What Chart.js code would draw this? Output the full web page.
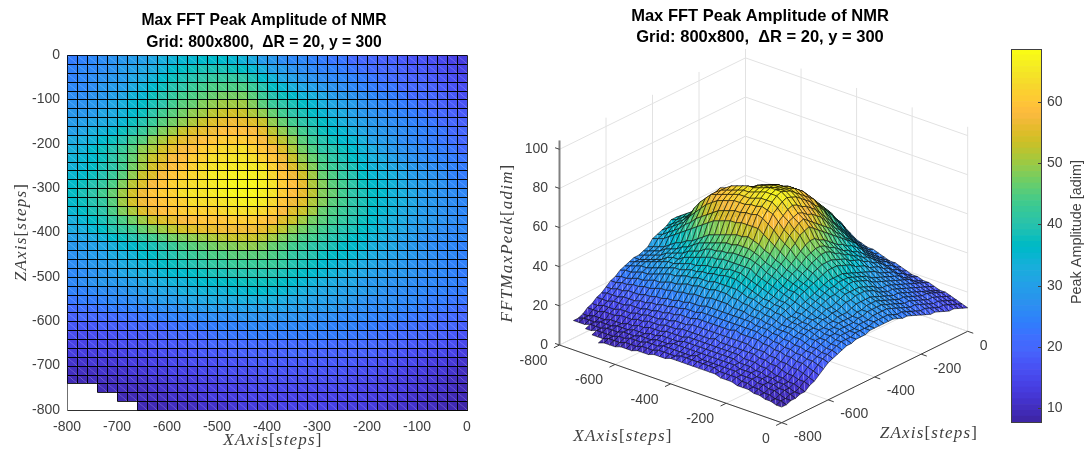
<!DOCTYPE html>
<html>
<head>
<meta charset="utf-8">
<script src="https://cdn.jsdelivr.net/npm/chart.js@4"></script>
<style>
	html, body { margin: 0; padding: 0; background: #fff; }
	body { position: relative; width: 1086px; height: 460px; overflow: hidden; }
	.panel { position: absolute; top: 0; height: 460px; }
	.panel canvas { display: block; }
</style>
</head>
<body>
<div class="panel" style="left:0;width:534px"><canvas id="mapChart"></canvas></div>
<div class="panel" style="left:490px;width:540px"><canvas id="surfaceChart"></canvas></div>
<div class="panel" style="left:990px;width:96px"><canvas id="barChart"></canvas></div>
<script>
// Axis values of the measuring grid
const xSteps = [-800,-780,-760,-740,-720,-700,-680,-660,-640,-620,-600,-580,-560,-540,-520,-500,-480,-460,-440,-420,-400,-380,-360,-340,-320,-300,-280,-260,-240,-220,-200,-180,-160,-140,-120,-100,-80,-60,-40,-20,0];
const zSteps = [0,-20,-40,-60,-80,-100,-120,-140,-160,-180,-200,-220,-240,-260,-280,-300,-320,-340,-360,-380,-400,-420,-440,-460,-480,-500,-520,-540,-560,-580,-600,-620,-640,-660,-680,-700,-720,-740,-760,-780,-800];

// Peak amplitude, one row per zSteps entry, one column per xSteps entry
const peakRows = [
	[23,24,25,26,26,27,28,29,30,31,33,33,34,34,35,34,34,33,31,29,27,26,25,25,24,23,22,22,21,20,19,19,18,18,17,16,16,15,14,13,12],
	[23,24,25,26,27,28,29,30,31,32,34,35,36,37,37,37,37,36,35,32,30,28,27,26,25,24,24,23,22,21,20,20,19,19,18,17,17,16,15,14,13],
	[24,25,26,26,27,28,30,31,32,34,36,37,38,39,40,40,40,39,38,36,33,31,29,28,27,26,25,25,24,23,22,21,20,20,19,18,18,17,16,15,14],
	[24,25,26,27,28,29,31,32,34,36,38,39,41,42,43,43,43,43,42,39,36,34,32,30,29,28,27,26,25,24,23,22,22,21,20,19,19,18,17,16,15],
	[25,26,26,27,29,30,32,34,35,38,40,41,43,44,45,46,46,46,45,43,39,37,35,33,32,30,29,28,27,26,25,24,23,22,21,20,20,19,18,17,15],
	[26,27,27,28,30,31,33,35,37,39,41,43,45,46,47,48,49,49,48,46,42,40,38,36,35,33,31,30,29,27,26,25,24,23,22,21,20,19,18,17,16],
	[27,28,28,29,31,32,34,36,38,41,43,45,47,48,50,51,52,52,51,49,46,43,41,38,37,35,33,32,30,29,27,26,25,24,23,22,21,20,19,18,17],
	[28,29,29,31,32,33,35,38,40,43,45,47,49,51,53,54,55,55,54,52,50,46,43,41,39,37,35,33,32,30,28,27,26,25,24,23,22,21,20,19,18],
	[29,30,31,32,33,35,37,40,42,45,48,50,52,54,55,56,58,58,57,56,53,49,46,43,41,38,36,35,33,31,30,28,27,26,25,24,23,22,21,20,18],
	[31,32,33,34,36,37,40,43,45,49,51,53,55,57,58,59,60,60,60,58,55,52,49,46,43,40,38,36,35,33,31,29,28,27,26,25,24,23,22,20,19],
	[32,33,34,36,37,40,43,46,49,52,54,56,58,59,60,61,62,62,62,60,58,55,52,48,45,41,39,38,36,34,32,30,29,27,26,25,24,23,22,21,20],
	[33,34,35,37,39,42,45,49,51,54,56,58,59,60,62,63,63,64,64,62,60,57,54,50,47,43,41,39,37,35,33,32,30,28,27,26,25,24,23,22,21],
	[33,34,36,37,39,41,44,48,51,54,57,59,60,62,63,64,65,65,65,64,62,59,56,52,49,45,43,41,39,37,34,33,32,30,28,27,26,25,24,23,22],
	[34,35,36,38,40,43,46,50,53,56,58,60,61,63,64,65,66,66,66,66,64,60,57,54,51,47,44,42,40,38,35,34,33,31,30,28,27,26,25,24,23],
	[35,36,38,39,41,45,48,52,55,57,60,61,62,63,65,66,66,67,67,67,65,62,59,56,53,48,46,44,41,39,36,35,34,32,31,29,28,27,26,24,23],
	[36,38,40,42,45,48,52,55,59,60,62,63,64,65,65,66,67,68,68,68,66,63,60,58,55,50,47,45,42,40,37,36,35,33,32,30,29,28,27,25,24],
	[36,37,39,41,44,48,52,55,58,60,61,62,63,64,64,65,66,67,67,67,65,62,59,57,54,50,47,45,42,40,37,36,35,33,32,30,29,28,27,26,25],
	[34,36,38,40,43,48,52,55,58,59,60,61,62,63,63,63,64,65,65,65,63,60,58,55,53,49,46,44,42,40,37,36,34,33,32,30,29,28,27,26,25],
	[33,35,37,39,41,45,48,51,54,56,58,59,60,61,61,61,62,62,63,62,61,58,55,53,50,47,45,43,41,39,37,35,34,33,31,30,28,28,27,26,25],
	[32,33,35,37,39,42,44,47,49,51,53,55,56,57,58,58,59,59,60,59,57,55,52,50,48,45,43,41,40,38,36,35,33,32,31,29,28,27,26,26,25],
	[31,32,33,35,37,39,41,43,45,47,49,51,52,53,54,54,55,55,55,55,53,51,49,47,45,43,41,40,38,37,35,34,33,31,30,28,27,27,26,25,25],
	[28,29,30,31,33,35,36,38,39,41,43,45,46,47,48,49,50,50,51,50,49,47,46,44,43,41,40,38,37,36,34,33,32,30,29,28,27,26,26,25,25],
	[27,28,29,30,32,33,34,36,37,39,41,42,43,44,45,46,46,47,47,47,46,45,43,42,41,39,38,37,36,35,33,32,31,30,29,28,27,26,25,25,24],
	[26,27,28,29,30,32,33,34,35,37,38,39,41,42,42,43,43,44,44,44,44,43,42,40,39,38,36,35,35,34,32,31,30,29,28,27,27,26,25,25,24],
	[26,26,27,28,29,30,32,33,33,35,36,37,38,39,40,40,41,41,41,41,41,41,39,38,37,36,35,34,33,32,31,30,29,28,28,27,26,26,25,24,24],
	[25,26,27,28,29,30,31,32,32,33,34,35,35,36,37,37,38,38,39,39,39,38,37,36,35,34,33,32,32,31,29,29,28,28,27,26,26,25,25,24,23],
	[24,25,26,27,27,28,29,30,31,32,32,33,34,34,35,35,36,36,37,37,37,36,35,34,33,32,32,31,31,30,28,28,27,27,26,26,25,25,24,24,23],
	[23,24,24,25,26,26,27,28,29,30,30,31,32,32,33,33,33,34,34,34,34,34,33,32,32,31,30,30,29,29,28,27,27,26,26,25,24,24,23,23,22],
	[21,22,22,23,24,24,25,26,26,27,28,28,29,30,30,31,31,31,32,32,32,31,31,30,30,29,29,28,28,27,26,26,26,25,25,24,24,23,22,22,21],
	[20,20,21,21,22,22,23,23,24,25,25,26,26,27,27,28,28,28,29,29,29,29,28,28,28,27,27,27,26,26,25,25,25,24,24,23,22,22,21,21,20],
	[18,18,19,19,20,20,20,21,21,22,22,23,23,24,24,25,25,25,26,26,26,26,26,26,26,26,26,25,25,25,24,24,23,23,22,22,21,21,20,20,19],
	[16,17,17,17,18,18,18,19,19,20,20,21,21,22,22,23,23,23,24,24,24,24,24,24,24,24,24,24,24,23,23,22,22,21,21,20,20,19,19,18,17],
	[15,15,15,16,16,16,17,17,17,18,18,19,19,20,20,21,21,21,22,22,22,22,22,22,22,23,22,22,22,22,21,21,20,20,19,19,18,18,17,16,15],
	[13,13,14,14,14,15,15,15,16,16,17,17,17,18,18,19,19,19,20,20,20,20,20,20,20,20,20,20,20,19,19,19,18,18,17,17,16,16,15,14,13],
	[12,12,12,13,13,13,14,14,14,15,15,16,16,16,17,17,17,18,18,18,18,18,18,19,18,18,18,18,18,18,18,17,17,16,16,15,14,14,13,13,12],
	[10,10,11,11,11,12,12,12,13,13,14,14,15,15,15,16,16,16,16,17,17,17,17,17,17,17,17,17,17,16,16,16,15,15,14,13,13,12,12,11,10],
	[9,10,10,10,11,11,11,12,12,12,13,13,13,14,14,15,15,15,15,16,16,16,16,16,16,16,16,16,16,15,15,15,14,14,13,13,12,12,11,10,10],
	[9,9,9,10,10,10,11,11,11,12,12,12,13,13,13,14,14,14,15,15,15,15,15,15,15,15,15,15,15,15,14,14,14,13,13,12,12,11,11,10,9],
	[null,null,null,9,9,10,10,10,10,11,11,12,12,12,13,13,13,14,14,14,14,14,14,15,14,14,14,14,14,14,14,13,13,13,12,12,11,11,10,9,9],
	[null,null,null,null,null,9,9,9,10,10,10,11,11,11,12,12,12,13,13,13,13,14,14,14,14,14,14,14,13,13,13,13,12,12,11,11,10,10,9,9,8],
	[null,null,null,null,null,null,null,8,9,9,9,10,10,10,11,11,11,12,12,12,13,13,13,13,13,13,13,13,13,12,12,12,11,11,11,10,10,9,9,8,8],
];

// Tick labels
const planTicks = [-800,-700,-600,-500,-400,-300,-200,-100,0];
const floorTicks = [-800,-600,-400,-200,0];
const heightTicks = [0,20,40,60,80,100];
const barTicks = [10,20,30,40,50,60];

const titleLines = ['Max FFT Peak Amplitude of NMR', 'Grid: 800x800,  \u0394R = 20, y = 300'];

const colorMin = 7.7;
const colorMax = 68.7;
const heightTop = 104.5;

// parula, 64 steps
const parula = ['#3e26a8','#402ab5','#422ebf','#4332cb','#4537d5','#463cde','#4741e5','#4747eb','#484df0','#4852f4','#4758f8','#4760fa','#4567fc','#4269fd','#3e6ffe','#3875fe','#327bfc','#2f81fa','#2d87f7','#2d8cf3','#2b91ef','#2796eb','#259bea','#239fe8','#20a5e3','#1ca9df','#18aedb','#11b1d6','#08b5d0','#01b8ca','#02bac3','#0bbdbc','#19bfb5','#24c1ae','#2cc3a7','#31c69f','#37c897','#3fca8e','#4acb84','#57cc7a','#64cd6f','#71cd63','#80cc59','#8fcb4e','#9dc942','#abc739','#b9c431','#c6c12a','#d1bf27','#dcbd29','#e6bb2d','#efba36','#f8ba3d','#fdbd3c','#fec338','#fdca33','#fccf30','#f7d62d','#f6dd2a','#f5e327','#f5e924','#f6ef20','#f7f51b','#f9fb15'];

const tickColor = '#404040';
const sansFont = '"Liberation Sans", Arial, sans-serif';
const mathFont = '"Liberation Serif", serif';

function colorFor(v) {
	let idx = Math.floor((v - colorMin) / (colorMax - colorMin) * parula.length);
	return parula[Math.max(0, Math.min(parula.length - 1, idx))];
}

function cellColor(a, b, c, d) {
	return colorFor((a + b + c + d) / 4);
}

// LaTeX-ish label: italic name, upright brackets
function drawMathLabel(ctx, name, unit, cx, cy, rotation) {
	let parts = [
		[name, 'italic 17px ' + mathFont],
		['[', '17px ' + mathFont],
		[unit, 'italic 17px ' + mathFont],
		[']', '17px ' + mathFont],
	];
	ctx.save();
	ctx.translate(cx, cy);
	ctx.rotate(rotation);
	ctx.fillStyle = tickColor;
	ctx.textBaseline = 'middle';
	ctx.textAlign = 'left';
	ctx.letterSpacing = '1.2px';
	let total = 0;
	parts.forEach(p => {
		ctx.font = p[1];
		total += ctx.measureText(p[0]).width;
	});
	let at = -total / 2;
	parts.forEach(p => {
		ctx.font = p[1];
		ctx.fillText(p[0], at, 0);
		at += ctx.measureText(p[0]).width;
	});
	ctx.restore();
}

function fillTriangle(ctx, p, q, r, color) {
	ctx.fillStyle = color;
	ctx.beginPath();
	ctx.moveTo(p.x, p.y);
	ctx.lineTo(q.x, q.y);
	ctx.lineTo(r.x, r.y);
	ctx.closePath();
	ctx.fill();
}

function gridPoints() {
	let points = [];
	peakRows.forEach((row, j) => {
		row.forEach((v, i) => {
			if (v !== null) {
				points.push({ x: xSteps[i], y: zSteps[j] });
			}
		});
	});
	return points;
}

const quietOptions = {
	animation: false,
	responsive: true,
	maintainAspectRatio: false,
	events: [],
};

// Left panel: flat view of the surface
const mapPlugin = {
	id: 'mapCells',
	// HACK: the title block stops at the plot's right edge, narrow it so the title sits over the axes
	afterLayout(chart) {
		chart.titleBlock.left = 61;
	},
	beforeDatasetsDraw(chart) {
		let ctx = chart.ctx;
		let xs = xSteps.map(v => Math.round(chart.scales.x.getPixelForValue(v)));
		let ys = zSteps.map(v => Math.round(chart.scales.y.getPixelForValue(v)));
		ctx.save();
		let edges = new Path2D();
		for (let j = 0; j < zSteps.length - 1; j++) {
			for (let i = 0; i < xSteps.length - 1; i++) {
				let a = peakRows[j][i], b = peakRows[j][i + 1], c = peakRows[j + 1][i], d = peakRows[j + 1][i + 1];
				if (a === null || b === null || c === null || d === null) {
					continue;
				}
				let color = cellColor(a, b, c, d);
				let tl = { x: xs[i], y: ys[j] }, tr = { x: xs[i + 1], y: ys[j] };
				let bl = { x: xs[i], y: ys[j + 1] }, br = { x: xs[i + 1], y: ys[j + 1] };
				fillTriangle(ctx, tl, tr, br, color);
				fillTriangle(ctx, tl, bl, br, color);
				edges.rect(xs[i] + 0.5, ys[j] + 0.5, xs[i + 1] - xs[i], ys[j + 1] - ys[j]);
			}
		}
		ctx.strokeStyle = 'rgba(0,0,0,0.85)';
		ctx.lineWidth = 1;
		ctx.stroke(edges);
		ctx.restore();
	},
	afterDraw(chart) {
		drawMathLabel(chart.ctx, 'XAxis', 'steps', 273, 441, 0);
		drawMathLabel(chart.ctx, 'ZAxis', 'steps', 22, 232, -Math.PI / 2);
	},
};

new Chart(document.getElementById('mapChart'), {
	type: 'scatter',
	data: {
		datasets: [{ data: gridPoints(), pointRadius: 0, showLine: false }],
	},
	options: {
		...quietOptions,
		layout: { padding: { left: 0, top: 0, right: 67, bottom: 0 } },
		plugins: {
			legend: { display: false },
			tooltip: { enabled: false },
			title: {
				display: true,
				text: titleLines,
				color: '#000',
				font: { family: sansFont, size: 15.7, weight: 'bold', lineHeight: '22px' },
				padding: { top: 10, bottom: 1 },
			},
		},
		scales: {
			x: {
				type: 'linear', min: -800, max: 0, z: 1,
				afterBuildTicks: s => { s.ticks = planTicks.map(v => ({ value: v })); },
				afterFit: s => { s.height = 50; },
				grid: { display: false, drawTicks: false },
				border: { color: '#303030' },
				ticks: { color: tickColor, font: { family: sansFont, size: 14 }, padding: 9, maxRotation: 0, autoSkip: false, callback: v => String(v) },
			},
			y: {
				type: 'linear', min: -800, max: 0, z: 1,
				afterBuildTicks: s => { s.ticks = planTicks.map(v => ({ value: v })); },
				afterFit: s => { s.width = 67; },
				grid: { display: false, drawTicks: false },
				border: { color: '#707070' },
				ticks: { color: tickColor, font: { family: sansFont, size: 14 }, padding: 7, autoSkip: false, callback: v => String(v) },
			},
		},
	},
	plugins: [mapPlugin],
});

// Right panel: fixed orthographic camera on the same surface
const view = { ox: 559.5, oy: 345, xu: 222.2 / 800, xv: 77.7 / 800, zu: 186 / 800, zv: -91.4 / 800, hv: 1.957 };

function project(x, z, h) {
	return {
		x: view.ox + (x + 800) * view.xu + (z + 800) * view.zu,
		y: view.oy + (x + 800) * view.xv + (z + 800) * view.zv - h * view.hv,
	};
}

function surfacePoints() {
	let points = [];
	peakRows.forEach((row, j) => {
		row.forEach((v, i) => {
			if (v !== null) {
				points.push(project(xSteps[i], zSteps[j], v));
			}
		});
	});
	return points;
}

const surfacePlugin = {
	id: 'surfaceQuads',
	beforeDatasetsDraw(chart) {
		let ctx = chart.ctx;
		let sx = chart.scales.x, sy = chart.scales.y;
		let px = p => ({ x: sx.getPixelForValue(p.x), y: sy.getPixelForValue(p.y) });
		let at = (x, z, h) => px(project(x, z, h));
		let segment = (p, q, color, width) => {
			ctx.strokeStyle = color;
			ctx.lineWidth = width;
			ctx.beginPath();
			ctx.moveTo(p.x, p.y);
			ctx.lineTo(q.x, q.y);
			ctx.stroke();
		};
		let wall = '#e2e2e2';
		ctx.save();

		// walls and floor
		heightTicks.forEach(h => {
			segment(at(-800, -800, h), at(-800, 0, h), wall, 1);
			segment(at(-800, 0, h), at(0, 0, h), wall, 1);
		});
		floorTicks.forEach(v => {
			segment(at(-800, v, 0), at(-800, v, heightTop), wall, 1);
			segment(at(v, 0, 0), at(v, 0, heightTop), wall, 1);
			segment(at(v, -800, 0), at(v, 0, 0), wall, 1);
			segment(at(-800, v, 0), at(0, v, 0), wall, 1);
		});

		// axes, ticks
		segment(at(-800, -800, 0), at(-800, -800, heightTop), '#808080', 2);
		segment(at(-800, -800, 0), at(0, -800, 0), '#404040', 1);
		segment(at(0, -800, 0), at(0, 0, 0), '#404040', 1);
		ctx.font = '14px ' + sansFont;
		ctx.fillStyle = tickColor;
		ctx.textBaseline = 'middle';
		heightTicks.forEach(h => {
			let p = at(-800, -800, h);
			segment(p, at(-816, -800, h), '#404040', 1);
			ctx.textAlign = 'right';
			ctx.fillText(String(h), p.x - 11.5, p.y);
		});
		floorTicks.forEach(v => {
			let p = at(v, -800, 0);
			segment(p, at(v, -824, 0), '#404040', 1);
			ctx.textAlign = 'right';
			ctx.fillText(String(v), p.x - 12, p.y + 16);
			let q = at(0, v, 0);
			segment(q, at(20, v, 0), '#404040', 1);
			ctx.textAlign = 'left';
			ctx.fillText(String(v), q.x + 12, q.y + 14.5);
		});

		// surface, back to front
		ctx.lineJoin = 'round';
		for (let j = 0; j < zSteps.length - 1; j++) {
			for (let i = 0; i < xSteps.length - 1; i++) {
				let a = peakRows[j][i], b = peakRows[j][i + 1], c = peakRows[j + 1][i], d = peakRows[j + 1][i + 1];
				if (a === null || b === null || c === null || d === null) {
					continue;
				}
				let color = cellColor(a, b, c, d);
				let pa = at(xSteps[i], zSteps[j], a), pb = at(xSteps[i + 1], zSteps[j], b);
				let pc = at(xSteps[i], zSteps[j + 1], c), pd = at(xSteps[i + 1], zSteps[j + 1], d);
				fillTriangle(ctx, pa, pb, pd, color);
				fillTriangle(ctx, pa, pc, pd, color);
				segment(pa, pd, 'rgba(255,255,255,0.25)', 0.7);
				ctx.strokeStyle = 'rgba(0,0,0,0.72)';
				ctx.lineWidth = 0.75;
				ctx.beginPath();
				ctx.moveTo(pa.x, pa.y);
				ctx.lineTo(pb.x, pb.y);
				ctx.lineTo(pd.x, pd.y);
				ctx.lineTo(pc.x, pc.y);
				ctx.closePath();
				ctx.stroke();
			}
		}
		ctx.restore();
	},
	afterDraw(chart) {
		drawMathLabel(chart.ctx, 'XAxis', 'steps', 133, 437, 0);
		drawMathLabel(chart.ctx, 'ZAxis', 'steps', 439, 434, 0);
		drawMathLabel(chart.ctx, 'FFTMaxPeak', 'adim', 18, 243, -Math.PI / 2);
	},
};

new Chart(document.getElementById('surfaceChart'), {
	type: 'scatter',
	data: {
		datasets: [{ data: surfacePoints(), pointRadius: 0, showLine: false }],
	},
	options: {
		...quietOptions,
		layout: { padding: 0 },
		plugins: {
			legend: { display: false },
			tooltip: { enabled: false },
			title: {
				display: true,
				text: titleLines,
				color: '#000',
				font: { family: sansFont, size: 16.5, weight: 'bold', lineHeight: '21px' },
				padding: { top: 6, bottom: 2 },
			},
		},
		scales: {
			x: { type: 'linear', min: 490, max: 1030, display: false },
			y: { type: 'linear', min: 50, max: 460, reverse: true, display: false },
		},
	},
	plugins: [surfacePlugin],
});

// Colour bar
const barPlugin = {
	id: 'barFrame',
	afterDraw(chart) {
		let ctx = chart.ctx, area = chart.chartArea, sy = chart.scales.y;
		ctx.save();
		ctx.strokeStyle = '#404040';
		ctx.lineWidth = 1;
		ctx.strokeRect(Math.round(area.left) + 0.5, Math.round(area.top) + 0.5, Math.round(area.width), Math.round(area.height));
		barTicks.forEach(v => {
			let y = Math.round(sy.getPixelForValue(v)) + 0.5;
			ctx.beginPath();
			ctx.moveTo(area.right, y);
			ctx.lineTo(area.right - 3, y);
			ctx.stroke();
		});
		ctx.translate(87, 232);
		ctx.rotate(-Math.PI / 2);
		ctx.fillStyle = tickColor;
		ctx.font = '14.4px ' + sansFont;
		ctx.textAlign = 'center';
		ctx.textBaseline = 'middle';
		ctx.fillText('Peak Amplitude [adim]', 0, 0);
		ctx.restore();
	},
};

new Chart(document.getElementById('barChart'), {
	type: 'bar',
	data: {
		labels: [''],
		datasets: parula.map((color, i) => {
			let width = (colorMax - colorMin) / parula.length;
			return {
				data: [[colorMin + i * width, colorMin + (i + 1) * width]],
				backgroundColor: color,
				borderWidth: 0,
				grouped: false,
				barPercentage: 1,
				categoryPercentage: 1,
			};
		}),
	},
	options: {
		...quietOptions,
		layout: { padding: { left: 21, top: 49, right: 0, bottom: 38 } },
		plugins: {
			legend: { display: false },
			tooltip: { enabled: false },
		},
		scales: {
			x: { display: false },
			y: {
				position: 'right', min: colorMin, max: colorMax,
				afterBuildTicks: s => { s.ticks = barTicks.map(v => ({ value: v })); },
				afterFit: s => { s.width = 45; },
				grid: { display: false, drawTicks: false },
				border: { display: false },
				ticks: { color: tickColor, font: { family: sansFont, size: 14 }, padding: 6, autoSkip: false, callback: v => String(v) },
			},
		},
	},
	plugins: [barPlugin],
});
</script>
</body>
</html>
